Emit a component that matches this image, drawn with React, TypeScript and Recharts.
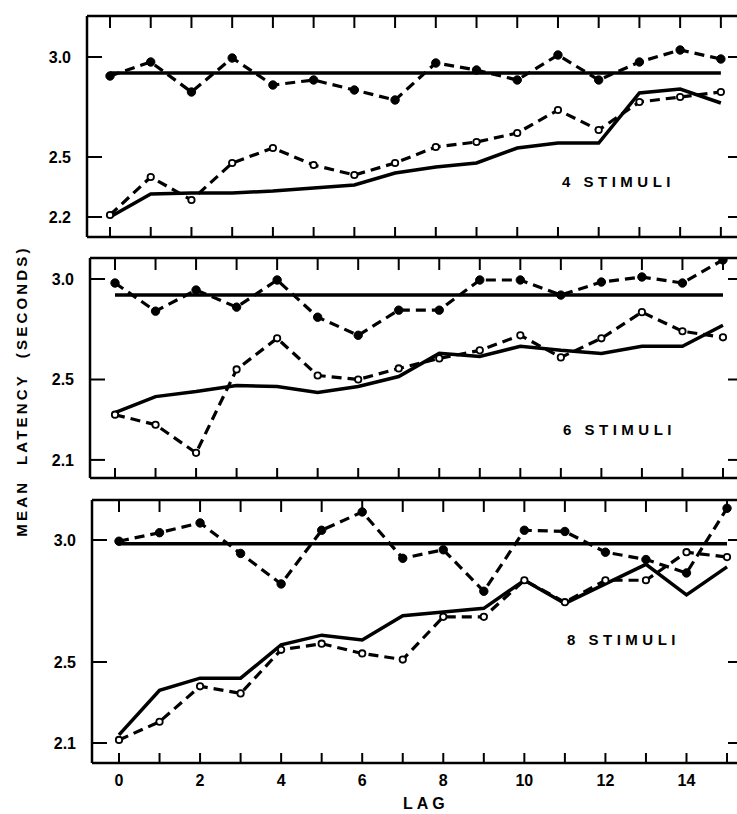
import React from 'react';
import { LineChart, Line, XAxis, YAxis, ReferenceLine } from 'recharts';

// ---------- data ----------
const lags = [0, 1, 2, 3, 4, 5, 6, 7, 8, 9, 10, 11, 12, 13, 14, 15];
const lagLabelTicks = [0, 2, 4, 6, 8, 10, 12, 14];

// 4 stimuli
const flat4 = 2.92;
const upper4 = [2.905, 2.975, 2.825, 2.995, 2.86, 2.885, 2.835, 2.785, 2.97, 2.935, 2.885, 3.01, 2.885, 2.975, 3.035, 2.99];
const lower4 = [2.21, 2.4, 2.285, 2.47, 2.545, 2.46, 2.41, 2.47, 2.55, 2.575, 2.62, 2.735, 2.635, 2.775, 2.8, 2.825];
const solid4 = [2.2, 2.315, 2.32, 2.32, 2.33, 2.345, 2.36, 2.42, 2.45, 2.47, 2.545, 2.57, 2.57, 2.82, 2.84, 2.77];
const yTicks4 = [2.2, 2.5, 3.0];

// 6 stimuli
const flat6 = 2.92;
const upper6 = [2.98, 2.84, 2.945, 2.86, 2.995, 2.81, 2.72, 2.845, 2.845, 2.995, 2.995, 2.92, 2.985, 3.01, 2.98, 3.095];
const lower6 = [2.325, 2.275, 2.135, 2.55, 2.705, 2.52, 2.5, 2.555, 2.605, 2.645, 2.72, 2.61, 2.705, 2.835, 2.74, 2.71];
const solid6 = [2.335, 2.415, 2.44, 2.47, 2.465, 2.435, 2.465, 2.515, 2.63, 2.615, 2.665, 2.645, 2.63, 2.665, 2.665, 2.77];
const yTicks6 = [2.1, 2.5, 3.0];

// 8 stimuli
const flat8 = 2.985;
const upper8 = [2.995, 3.03, 3.07, 2.945, 2.82, 3.04, 3.115, 2.925, 2.96, 2.79, 3.04, 3.035, 2.95, 2.92, 2.865, 3.13];
const lower8 = [2.115, 2.205, 2.38, 2.345, 2.55, 2.575, 2.535, 2.51, 2.685, 2.685, 2.835, 2.745, 2.835, 2.835, 2.95, 2.93];
const solid8 = [2.14, 2.36, 2.42, 2.42, 2.57, 2.61, 2.59, 2.69, 2.705, 2.72, 2.835, 2.74, 2.82, 2.9, 2.775, 2.89];
const yTicks8 = [2.1, 2.5, 3.0];

const panelLabels = ['4 STIMULI', '6 STIMULI', '8 STIMULI'];

// ---------- layout ----------
const FONT = '"Liberation Sans", Arial, sans-serif';
const identity = (v: number) => v;
// the lower part of the 8-stimuli axis is drawn compressed in the original figure
const K8 = 0.83;
const map8 = (v: number) => (v >= 2.5 ? v : 2.5 - (2.5 - v) * K8);
const inv8 = (d: number) => (d >= 2.5 ? d : 2.5 - (2.5 - d) / K8);

type Panel = {
  label: string;
  flat: number;
  upper: number[];
  lower: number[];
  solid: number[];
  yTicks: number[];
  frameLeft: number;
  frameTop: number;
  frameBottom: number;
  xDomain: [number, number];
  yDomain: [number, number];
  map: (v: number) => number;
  inv: (v: number) => number;
  showXLabels: boolean;
  textPos: [number, number];
};

const panels: Panel[] = [
  {
    label: panelLabels[0], flat: flat4, upper: upper4, lower: lower4, solid: solid4, yTicks: yTicks4,
    frameLeft: 87, frameTop: 16, frameBottom: 237, xDomain: [-0.565, 15.47], yDomain: [2.1, 3.205],
    map: identity, inv: identity, showXLabels: false, textPos: [562, 173],
  },
  {
    label: panelLabels[1], flat: flat6, upper: upper6, lower: lower6, solid: solid6, yTicks: yTicks6,
    frameLeft: 90, frameTop: 258, frameBottom: 478, xDomain: [-0.617, 15.42], yDomain: [2.01, 3.1045],
    map: identity, inv: identity, showXLabels: false, textPos: [563, 421],
  },
  {
    label: panelLabels[2], flat: flat8, upper: upper8, lower: lower8, solid: solid8, yTicks: yTicks8,
    frameLeft: 92, frameTop: 500, frameBottom: 763, xDomain: [-0.666, 15.32], yDomain: [2.086, 3.164],
    map: map8, inv: inv8, showXLabels: true, textPos: [567, 631],
  },
];

const PLOT_RIGHT = 740;
const CHART_W = 760;
const LABEL_AXIS_W = 60;
const TOP_PAD = 10;

const tickStyle = { fill: '#000', fontSize: 16, fontWeight: 'bold' as const, fontFamily: FONT };
const frameStroke = { stroke: '#000', strokeWidth: 2.5 };
const tickLineStyle = { stroke: '#000', strokeWidth: 2 };
const noLabel = () => <g />;

function PanelChart({ p }: { p: Panel }) {
  const data = lags.map((lag, i) => ({
    lag,
    upper: p.map(p.upper[i]),
    lower: p.map(p.lower[i]),
    solid: p.map(p.solid[i]),
  }));
  const yTicksD = p.yTicks.map(p.map);
  const frameH = p.frameBottom - p.frameTop;
  const bottomExtra = p.showXLabels ? 40 : 0;
  const marginBottom = 5;
  const height = TOP_PAD + frameH + marginBottom + bottomExtra;
  const fmt = (d: number) => p.inv(d).toFixed(1);
  const flatD = p.map(p.flat);
  return (
    <div style={{ position: 'absolute', left: 0, top: p.frameTop - TOP_PAD }}>
      <LineChart
        width={CHART_W}
        height={height}
        data={data}
        margin={{ top: TOP_PAD, right: CHART_W - PLOT_RIGHT, bottom: marginBottom, left: p.frameLeft - LABEL_AXIS_W }}
      >
        {/* inner frame axes */}
        <XAxis xAxisId="b" dataKey="lag" type="number" domain={p.xDomain} allowDataOverflow ticks={lags}
          orientation="bottom" mirror tick={noLabel} tickSize={10} axisLine={frameStroke} tickLine={tickLineStyle} interval={0} />
        <XAxis xAxisId="t" dataKey="lag" type="number" domain={p.xDomain} allowDataOverflow ticks={lags}
          orientation="top" mirror tick={noLabel} tickSize={12} axisLine={frameStroke} tickLine={tickLineStyle} interval={0} />
        {p.showXLabels && (
          <XAxis xAxisId="lbl" dataKey="lag" type="number" domain={p.xDomain} allowDataOverflow ticks={lagLabelTicks}
            orientation="bottom" height={40} tick={tickStyle} tickSize={0} tickMargin={12} axisLine={false} tickLine={false} interval={0} />
        )}
        <YAxis yAxisId="l" type="number" domain={p.yDomain} allowDataOverflow ticks={yTicksD}
          orientation="left" mirror tick={noLabel} tickSize={15} axisLine={frameStroke} tickLine={tickLineStyle} interval={0} />
        <YAxis yAxisId="r" type="number" domain={p.yDomain} allowDataOverflow ticks={yTicksD}
          orientation="right" mirror tick={noLabel} tickSize={12} axisLine={frameStroke} tickLine={tickLineStyle} interval={0} />
        <YAxis yAxisId="lbl" type="number" domain={p.yDomain} allowDataOverflow ticks={yTicksD}
          orientation="left" width={LABEL_AXIS_W} tick={tickStyle} tickFormatter={fmt} tickSize={0} tickMargin={16}
          axisLine={false} tickLine={false} interval={0} />

        <ReferenceLine xAxisId="b" yAxisId="l" segment={[{ x: lags[0], y: flatD }, { x: lags[lags.length - 1], y: flatD }]}
          stroke="#000" strokeWidth={3.5} ifOverflow="visible" />
        <Line xAxisId="b" yAxisId="l" dataKey="solid" type="linear" stroke="#000" strokeWidth={3.5}
          dot={false} activeDot={false} isAnimationActive={false} />
        <Line xAxisId="b" yAxisId="l" dataKey="lower" type="linear" stroke="#000" strokeWidth={3.2} strokeDasharray="10 6"
          dot={{ r: 3.2, fill: '#fff', stroke: '#000', strokeWidth: 1.8, strokeDasharray: '' }} activeDot={false} isAnimationActive={false} />
        <Line xAxisId="b" yAxisId="l" dataKey="upper" type="linear" stroke="#000" strokeWidth={3.2} strokeDasharray="10 6"
          dot={{ r: 4.2, fill: '#000', stroke: '#000', strokeWidth: 1, strokeDasharray: '' }} activeDot={false} isAnimationActive={false} />
      </LineChart>
      <div style={{
        position: 'absolute', left: p.textPos[0], top: p.textPos[1] - (p.frameTop - TOP_PAD),
        fontFamily: FONT, fontWeight: 'bold', fontSize: 15, letterSpacing: 4.5, color: '#000', whiteSpace: 'nowrap',
      }}>{p.label}</div>
    </div>
  );
}

export default function App() {
  return (
    <div style={{ position: 'absolute', left: 0, top: 0, width: 737, height: 814, overflow: 'hidden', background: '#fff' }}>
      {panels.map((p) => (
        <PanelChart key={p.label} p={p} />
      ))}
      <div style={{
        position: 'absolute', left: 21, top: 391, transform: 'translate(-50%, -50%) rotate(-90deg)',
        fontFamily: FONT, fontWeight: 'bold', fontSize: 15, letterSpacing: 3.2, whiteSpace: 'nowrap', color: '#000',
      }}>MEAN&nbsp;&nbsp;LATENCY&nbsp;&nbsp;(SECONDS)</div>
      <div style={{
        position: 'absolute', left: 403, top: 795,
        fontFamily: FONT, fontWeight: 'bold', fontSize: 16, letterSpacing: 4, whiteSpace: 'nowrap', color: '#000',
      }}>LAG</div>
    </div>
  );
}
